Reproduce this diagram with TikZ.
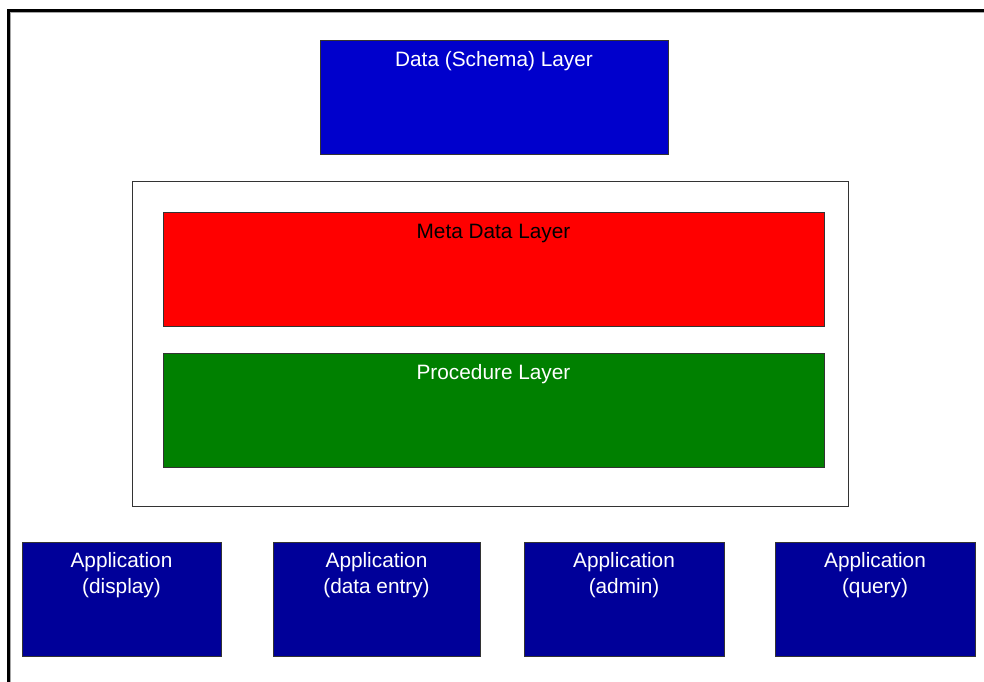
\documentclass[tikz,border=0pt]{standalone}
\usepackage{fontspec}
\setmainfont{Liberation Sans}
\definecolor{datacol}{HTML}{0000CC}
\definecolor{metacol}{HTML}{FF0000}
\definecolor{proccol}{HTML}{008000}
\definecolor{appcol}{HTML}{000099}
\definecolor{edgecol}{HTML}{333333}
\tikzset{
  layerbox/.style={draw=edgecol, line width=1pt, inner sep=0pt, outer sep=0pt, anchor=north west},
  boxtext/.style={anchor=base, inner sep=0pt, font=\fontsize{20.8}{26}\selectfont, align=center},
}
\begin{document}
\begin{tikzpicture}[x=1pt,y=-1pt]
\useasboundingbox (0,0) rectangle (984,681);
% outer frame (left and top edges visible)
\draw[line width=3pt, black] (8.5,690) -- (8.5,10.5) -- (990,10.5);
\draw[line width=1pt, black!35] (10.5,690) -- (10.5,12.5) -- (990,12.5);
% data layer
\node[layerbox, fill=datacol, minimum width=348pt, minimum height=114pt] (data) at (320,40) {};
\node[boxtext, text=white] (datat) at ([yshift=-26.4pt]data.north) {Data (Schema) Layer};
% container
\node[layerbox, fill=white, line width=0.8pt, minimum width=716pt, minimum height=325pt] (cont) at (132,181) {};
\node[layerbox, fill=metacol, minimum width=661pt, minimum height=114pt] (meta) at (163,212) {};
\node[boxtext, text=black] (metat) at ([yshift=-26.4pt]meta.north) {Meta Data Layer};
\node[layerbox, fill=proccol, minimum width=661pt, minimum height=114pt] (proc) at (163,353) {};
\node[boxtext, text=white] (proct) at ([yshift=-26.4pt]proc.north) {Procedure Layer};
% applications (base anchor = baseline of last line)
\node[layerbox, fill=appcol, minimum width=199pt, minimum height=114pt] (app1) at (22,542) {};
\node[layerbox, fill=appcol, minimum width=207pt, minimum height=114pt] (app2) at (273,542) {};
\node[layerbox, fill=appcol, minimum width=200pt, minimum height=114pt] (app3) at (524,542) {};
\node[layerbox, fill=appcol, minimum width=200pt, minimum height=114pt] (app4) at (775,542) {};
\node[boxtext, text=white] (app1t) at ([yshift=-51pt]app1.north) {Application\\(display)};
\node[boxtext, text=white] (app2t) at ([yshift=-51pt]app2.north) {Application\\(data entry)};
\node[boxtext, text=white] (app3t) at ([yshift=-51pt]app3.north) {Application\\(admin)};
\node[boxtext, text=white] (app4t) at ([yshift=-51pt]app4.north) {Application\\(query)};
\end{tikzpicture}
\end{document}
